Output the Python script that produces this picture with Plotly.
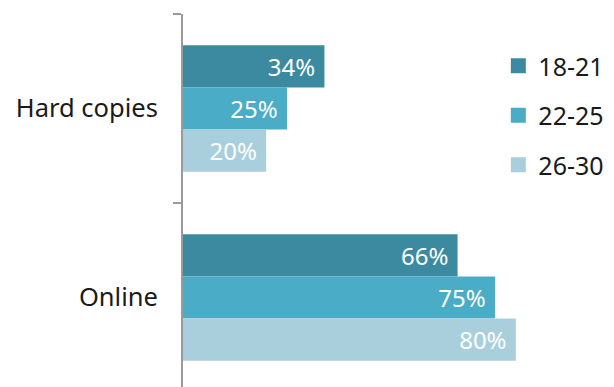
import plotly.graph_objects as go

categories = ["Hard copies", "Online"]
age_groups = ["18-21", "22-25", "26-30"]
values_18_21 = [34, 66]
values_22_25 = [25, 75]
values_26_30 = [20, 80]
colors = ["#3c8aa0", "#4aacc6", "#a9cfdd"]

series = [values_18_21, values_22_25, values_26_30]

FONT = "Noto Sans"

fig = go.Figure()
for name, vals, col in zip(age_groups, series, colors):
    fig.add_trace(go.Bar(
        y=categories, x=vals, orientation="h", name=name,
        marker=dict(color=col, line=dict(width=0)),
        text=[f"{v}%\u00a0" for v in vals], textposition="inside",
        insidetextanchor="end",
        textfont=dict(color="white", size=24, family=FONT),
        showlegend=False, legendgroup=name,
    ))
    # square legend swatch
    fig.add_trace(go.Scatter(
        x=[None], y=[None], mode="markers", name=name,
        marker=dict(symbol="square", size=15, color=col),
        legendgroup=name, showlegend=True,
    ))

fig.update_layout(
    width=614, height=387,
    margin=dict(l=183, r=15, t=14, b=0, autoexpand=False),
    paper_bgcolor="white", plot_bgcolor="white",
    barmode="group", bargap=0.33, bargroupgap=0,
    font=dict(family=FONT, color="#1a1a1a", size=25),
    legend=dict(
        x=0.758, xanchor="left", y=0.922, yanchor="top",
        font=dict(size=25, family=FONT, color="#1a1a1a"),
        tracegroupgap=14, itemwidth=30,
        bgcolor="rgba(0,0,0,0)",
    ),
    xaxis=dict(range=[0, 100], visible=False, fixedrange=True),
    yaxis=dict(
        categoryorder="array", categoryarray=categories,
        range=[1.4735, -0.5],
        showline=True, linecolor="#9a9a9a", linewidth=2,
        ticks="outside", tickson="boundaries", ticklen=8,
        tickcolor="#9a9a9a", tickwidth=2,
        showgrid=False, zeroline=False,
        tickfont=dict(size=25.5, family=FONT, color="#1a1a1a"),
        ticklabelstandoff=18,
    ),
)

fig.write_html("out.html")
